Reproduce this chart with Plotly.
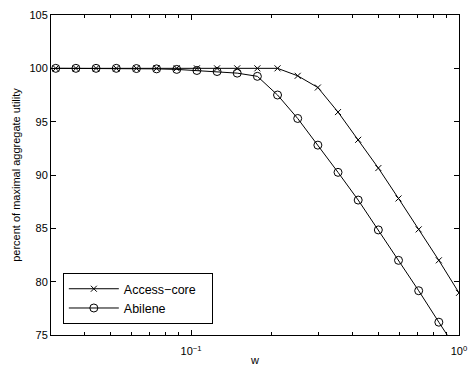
import plotly.graph_objects as go
import math

w = [0.03125, 0.03716, 0.04419, 0.05256, 0.0625, 0.07433, 0.08839, 0.10511,
     0.125, 0.14865, 0.17678, 0.21022, 0.25, 0.2973, 0.35355, 0.42045, 0.5,
     0.5946, 0.70711, 0.8409, 1.0]
access_core = [100, 100, 100, 100, 100, 100, 100, 100, 100, 100, 100, 100,
               99.3, 98.2, 95.9, 93.3, 90.65, 87.8, 84.9, 82.0, 78.95]
abilene = [100, 100, 100, 100, 99.98, 99.95, 99.9, 99.8, 99.7, 99.55, 99.25,
           97.5, 95.3, 92.8, 90.25, 87.65, 84.85, 82.0, 79.15, 76.2, 73.3]

x_tickvals = [0.1, 1]
x_ticktext = ["10<sup>\u22121</sup>", "10<sup>0</sup>"]
x_minor = [0.03, 0.04, 0.05, 0.06, 0.07, 0.08, 0.09,
           0.2, 0.3, 0.4, 0.5, 0.6, 0.7, 0.8, 0.9]
y_ticks = [75, 80, 85, 90, 95, 100, 105]

fig = go.Figure()
fig.add_trace(go.Scatter(
    x=w, y=access_core, name="Access\u2212core\u00a0\u00a0\u00a0", mode="lines+markers",
    line=dict(color="black", width=1),
    marker=dict(symbol="x-thin", size=6, line=dict(color="black", width=1), color="black"),
    cliponaxis=True,
))
fig.add_trace(go.Scatter(
    x=w, y=abilene, name="Abilene", mode="lines+markers",
    line=dict(color="black", width=1),
    marker=dict(symbol="circle-open", size=8, line=dict(color="black", width=1), color="black"),
    cliponaxis=True,
))

font = dict(family="Liberation Sans, Arial, sans-serif", size=11, color="black")

fig.update_layout(
    width=476, height=374,
    margin=dict(l=51, r=9, t=11, b=36),
    paper_bgcolor="white", plot_bgcolor="white",
    font=font,
    showlegend=True,
    legend=dict(
        x=0.029, y=0.034, xanchor="left", yanchor="bottom",
        bordercolor="black", borderwidth=1, bgcolor="white",
        font=dict(family="Liberation Sans, Arial, sans-serif", size=12.5, color="black"),
        itemwidth=50,
    ),
)
fig.update_xaxes(
    type="log", range=[math.log10(0.03), 0],
    showline=True, linecolor="black", linewidth=1, mirror="ticks",
    ticks="inside", ticklen=5, tickcolor="black",
    tickvals=x_tickvals, ticktext=x_ticktext, ticklabelstandoff=6,
    minor=dict(ticks="inside", ticklen=3, tickcolor="black", tickvals=x_minor, showgrid=False),
    showgrid=False, zeroline=False,
    title=dict(text="w", font=dict(size=11), standoff=0),
)
fig.update_yaxes(
    range=[75, 105],
    showline=True, linecolor="black", linewidth=1, mirror="ticks",
    ticks="inside", ticklen=5, tickcolor="black",
    tickvals=y_ticks,
    showgrid=False, zeroline=False,
    title=dict(text="percent of maximal aggregate utility", font=dict(size=11), standoff=6),
)

fig.write_html("out.html", config={"displayModeBar": False},
               post_script="document.body.style.margin='0';")
